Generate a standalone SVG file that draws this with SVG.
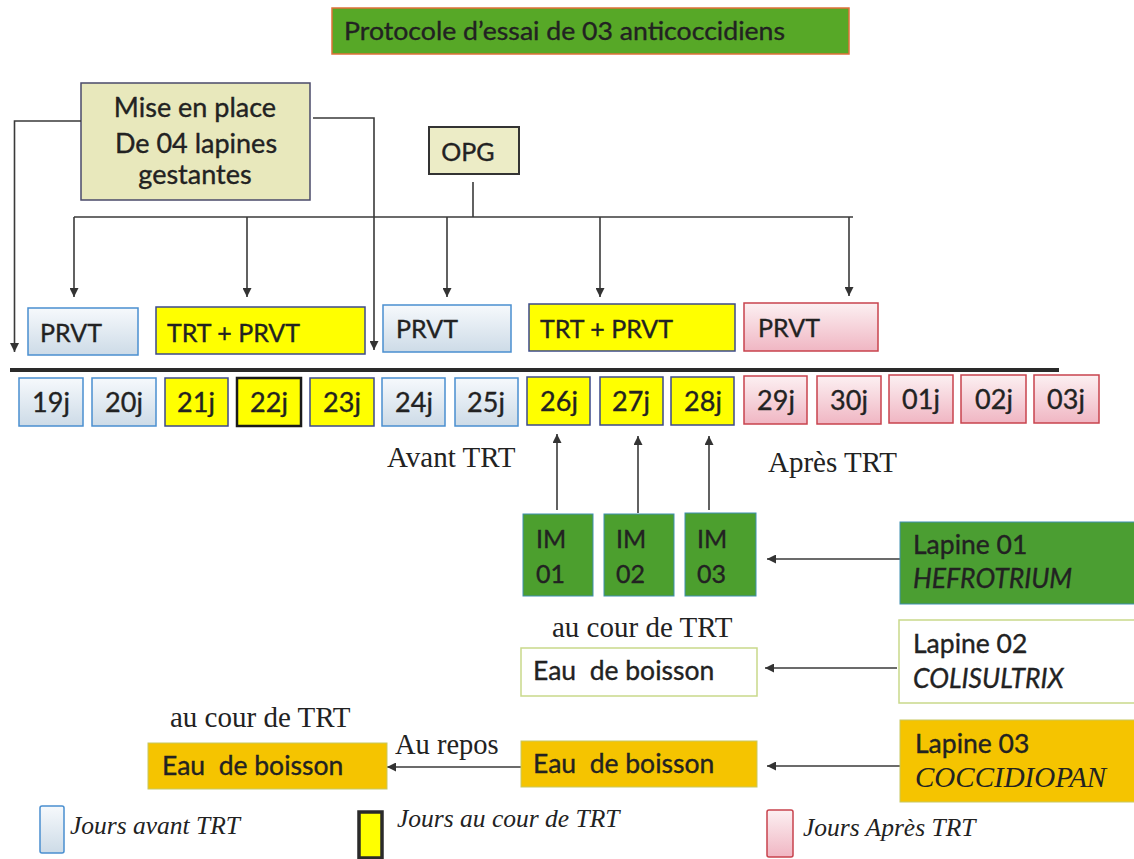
<svg xmlns="http://www.w3.org/2000/svg" width="1134" height="859" viewBox="0 0 1134 859">
<defs>
<linearGradient id="gBlue" x1="0" y1="0" x2="0" y2="1"><stop offset="0" stop-color="#f6f9fc"/><stop offset="1" stop-color="#cddbe7"/></linearGradient>
<linearGradient id="gPink" x1="0" y1="0" x2="0" y2="1"><stop offset="0" stop-color="#fcf0f2"/><stop offset="1" stop-color="#f0b6c3"/></linearGradient>
<marker id="ah" viewBox="0 0 10 10" refX="10" refY="5" markerWidth="9" markerHeight="9" markerUnits="userSpaceOnUse" orient="auto"><path d="M0,0 L10,5 L0,10 z" fill="#333"/></marker>
</defs>
<style>
.s{font-family:Lato,"Open Sans","Liberation Sans",sans-serif;fill:#222;stroke:#222;stroke-width:0.35;}
.r{font-family:"Liberation Serif","DejaVu Serif",serif;fill:#222;}
.ln{stroke:#3a3a3a;stroke-width:1.6;fill:none;}
.ar{stroke:#3a3a3a;stroke-width:1.6;fill:none;marker-end:url(#ah);}
.blue{fill:url(#gBlue);stroke:#4a8fd0;stroke-width:1.5;}
.yel{fill:#ffff00;stroke:#3c4a8a;stroke-width:1.5;}
.pink{fill:url(#gPink);stroke:#c8434d;stroke-width:1.5;}
.day{font-size:27px;text-anchor:middle;}
.lab{font-size:26.5px;}
.pv{font-size:25px;}
.big{font-size:29px;}
.lg{font-size:25.5px;font-style:italic;}
</style>
<rect width="1134" height="859" fill="#ffffff"/>

<g id="title">
<rect x="332" y="8" width="517" height="46" fill="#57a827" stroke="#e0703a" stroke-width="1.5"/>
<text class="s" x="344" y="40" font-size="25" textLength="441" lengthAdjust="spacingAndGlyphs">Protocole d’essai de 03 anticoccidiens</text>
</g>

<g id="mise">
<rect x="81" y="83" width="229" height="117" fill="#e8e8bc" stroke="#4a4a6a" stroke-width="1.5"/>
<text class="s" x="195" y="117" font-size="27" text-anchor="middle">Mise en place</text>
<text class="s" x="196" y="153" font-size="27" text-anchor="middle">De 04 lapines</text>
<text class="s" x="195" y="184" font-size="27" text-anchor="middle">gestantes</text>
</g>

<g id="opg">
<rect x="429" y="127" width="90" height="47" fill="#ececc6" stroke="#333" stroke-width="2"/>
<text class="s" x="468" y="161" font-size="25" text-anchor="middle">OPG</text>
</g>

<g id="connectors">
<path class="ar" d="M81,121 H14.5 V352"/>
<path class="ar" d="M313,118 H374 V350"/>
<path class="ln" d="M473,182 V217"/>
<path class="ln" d="M74,217 H853"/>
<path class="ar" d="M74,217 V297"/>
<path class="ar" d="M247,217 V297"/>
<path class="ar" d="M447,217 V297"/>
<path class="ar" d="M600,217 V297"/>
<path class="ar" d="M849,217 V296"/>
<path d="M10,370 H1059" stroke="#2a2a2a" stroke-width="4"/>
<path class="ar" d="M557,510 V434"/>
<path class="ar" d="M638,513 V436"/>
<path class="ar" d="M709,510 V436"/>
<path class="ar" d="M900,559 H767"/>
<path class="ar" d="M897,668 H765"/>
<path class="ar" d="M900,766 H767"/>
<path class="ar" d="M521,767 H387"/>
</g>

<g id="prvt1"><rect class="blue" x="28" y="308" width="110" height="47"/><text class="s pv" x="40" y="342">PRVT</text></g>
<g id="trt1"><rect class="yel" x="156" y="307" width="209" height="47"/><text class="s pv" x="167" y="342">TRT + PRVT</text></g>
<g id="prvt2"><rect class="blue" x="383" y="305" width="128" height="47"/><text class="s pv" x="396" y="338">PRVT</text></g>
<g id="trt2"><rect class="yel" x="529" y="304" width="206" height="47"/><text class="s pv" x="540" y="338">TRT + PRVT</text></g>
<g id="prvt3"><rect class="pink" x="744" y="303" width="134" height="48"/><text class="s pv" x="758" y="337">PRVT</text></g>

<g id="d19"><rect class="blue" x="19" y="378" width="64" height="48"/><text class="s day" x="51" y="412">19j</text></g>
<g id="d20"><rect class="blue" x="92" y="378" width="64" height="48"/><text class="s day" x="124" y="412">20j</text></g>
<g id="d21"><rect class="yel" x="165" y="378" width="63" height="48" stroke="#4a80c0"/><text class="s day" x="196" y="412">21j</text></g>
<g id="d22"><rect x="237" y="378" width="64" height="48" fill="#ffff00" stroke="#1a1a1a" stroke-width="2.5"/><text class="s day" x="269" y="412">22j</text></g>
<g id="d23"><rect class="yel" x="310" y="378" width="64" height="48" stroke="#4a80c0"/><text class="s day" x="342" y="412">23j</text></g>
<g id="d24"><rect class="blue" x="382" y="378" width="63" height="48"/><text class="s day" x="414" y="412">24j</text></g>
<g id="d25"><rect class="blue" x="455" y="378" width="63" height="48"/><text class="s day" x="486" y="412">25j</text></g>
<g id="d26"><rect class="yel" x="527" y="377" width="63" height="48"/><text class="s day" x="559" y="411">26j</text></g>
<g id="d27"><rect class="yel" x="600" y="377" width="63" height="48"/><text class="s day" x="631" y="411">27j</text></g>
<g id="d28"><rect class="yel" x="671" y="377" width="63" height="48"/><text class="s day" x="703" y="411">28j</text></g>
<g id="d29"><rect class="pink" x="744" y="376" width="63" height="48"/><text class="s day" x="776" y="410">29j</text></g>
<g id="d30"><rect class="pink" x="817" y="376" width="64" height="48"/><text class="s day" x="849" y="410">30j</text></g>
<g id="d01"><rect class="pink" x="889" y="375" width="64" height="48"/><text class="s day" x="921" y="409">01j</text></g>
<g id="d02"><rect class="pink" x="961" y="375" width="65" height="48"/><text class="s day" x="994" y="409">02j</text></g>
<g id="d03"><rect class="pink" x="1034" y="375" width="65" height="48"/><text class="s day" x="1066" y="409">03j</text></g>

<g id="avant"><text class="r big" x="387" y="467">Avant TRT</text></g>
<g id="apres"><text class="r big" x="768" y="472">Après TRT</text></g>

<g id="im01"><rect x="523" y="514" width="70" height="82" fill="#4c9f2e" stroke="#3f8fb0" stroke-width="1"/><text class="s pv" x="536" y="548">IM</text><text class="s pv" x="536" y="583">01</text></g>
<g id="im02"><rect x="604" y="514" width="70" height="82" fill="#4c9f2e" stroke="#3f8fb0" stroke-width="1"/><text class="s pv" x="616" y="548">IM</text><text class="s pv" x="616" y="583">02</text></g>
<g id="im03"><rect x="685" y="513" width="71" height="83" fill="#4c9f2e" stroke="#3f8fb0" stroke-width="1"/><text class="s pv" x="697" y="548">IM</text><text class="s pv" x="697" y="583">03</text></g>

<g id="lapine01"><rect x="900" y="522" width="240" height="82" fill="#4b9e32" stroke="#3f8fb0" stroke-width="1"/><text class="s lab" x="913" y="554">Lapine 01</text><text class="s lab" x="913" y="588" font-style="italic">HEFROTRIUM</text></g>

<g id="aucour1"><text class="r big" x="552" y="637">au cour de TRT</text></g>
<g id="eau1"><rect x="521" y="648" width="236" height="48" fill="#ffffff" stroke="#c9d98a" stroke-width="1.5"/><text class="s lab" x="533" y="680" xml:space="preserve">Eau  de boisson</text></g>
<g id="lapine02"><rect x="899" y="620" width="241" height="83" fill="#ffffff" stroke="#c9d98a" stroke-width="1.5"/><text class="s lab" x="913" y="653">Lapine 02</text><text class="s lab" x="913" y="688" font-style="italic">COLISULTRIX</text></g>

<g id="aurepos"><text class="r" x="395" y="754" font-size="28.5">Au repos</text></g>
<g id="eau2"><rect x="521" y="741" width="236" height="46" fill="#f5c400" stroke="#c8c860" stroke-width="1"/><text class="s lab" x="533" y="773" xml:space="preserve">Eau  de boisson</text></g>
<g id="lapine03"><rect x="900" y="720" width="240" height="82" fill="#f5c400" stroke="#c8c860" stroke-width="1"/><text class="s lab" x="915" y="753">Lapine 03</text><text class="r big" x="915" y="787" font-style="italic">COCCIDIOPAN</text></g>

<g id="aucour2"><text class="r big" x="170" y="727">au cour de TRT</text></g>
<g id="eau3"><rect x="148" y="743" width="239" height="46" fill="#f5c400" stroke="#c8c860" stroke-width="1"/><text class="s lab" x="162" y="775" xml:space="preserve">Eau  de boisson</text></g>

<g id="legend">
<rect class="blue" x="40" y="806" width="24" height="47" rx="2"/>
<text class="r lg" x="70" y="834">Jours avant TRT</text>
<rect x="359" y="812" width="23" height="46" fill="#ffff00" stroke="#2a2a2a" stroke-width="3.5"/>
<text class="r lg" x="397" y="827">Jours au cour de TRT</text>
<rect class="pink" x="767" y="810" width="26" height="47" rx="2"/>
<text class="r lg" x="803" y="836">Jours Après TRT</text>
</g>
</svg>
